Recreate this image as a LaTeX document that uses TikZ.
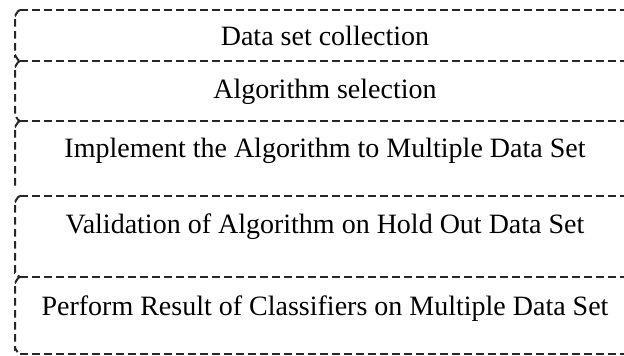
\documentclass[tikz,border=0pt]{standalone}
\usepackage{fontspec}
\setmainfont{Liberation Serif}
\begin{document}
\begin{tikzpicture}[x=1pt,y=-1pt,
  dashline/.style={draw=black!85, line width=2pt, dash pattern=on 7.5pt off 4.5pt},
  stagetext/.style={font=\fontsize{28}{32}\selectfont, inner sep=0pt, anchor=base}]
\useasboundingbox (0,0) rectangle (624,356);
\clip (0,0) rectangle (624,356);
% left edges of the five stages with their rounded corners
\draw[dashline] (20,10) to[out=180,in=-90] (15,15) -- (15,56) to[out=90,in=180] (20,61);
\draw[dashline] (20,61) to[out=180,in=-90] (15,66) -- (15,116) to[out=90,in=180] (20,121);
\draw[dashline] (20,121) to[out=180,in=-90] (15,126) -- (15,189);
\draw[dashline] (20,196) to[out=180,in=-90] (15,201) -- (15,272) to[out=90,in=180] (20,277);
\draw[dashline] (20,277) to[out=180,in=-90] (15,282) -- (15,349) to[out=90,in=180] (20,354);
% boundaries between the stages, running past the right edge
\foreach \y/\n in {10/b0,61/b1,121/b2,196/b3,277/b4,354/b5}{
  \coordinate (\n l) at (20,\y);
  \coordinate (\n r) at (640,\y);
  \draw[dashline] (\n l) -- (\n r);
}
% stage labels
\node[stagetext] (t1) at (325,45) {Data set collection};
\node[stagetext] (t2) at (325,98) {Algorithm selection};
\node[stagetext] (t3) at (325,157) {Implement the Algorithm to Multiple Data Set};
\node[stagetext] (t4) at (325,233) {Validation of Algorithm on Hold Out Data Set};
\node[stagetext] (t5) at (325,315) {Perform Result of Classifiers on Multiple Data Set};
\end{tikzpicture}
\end{document}
